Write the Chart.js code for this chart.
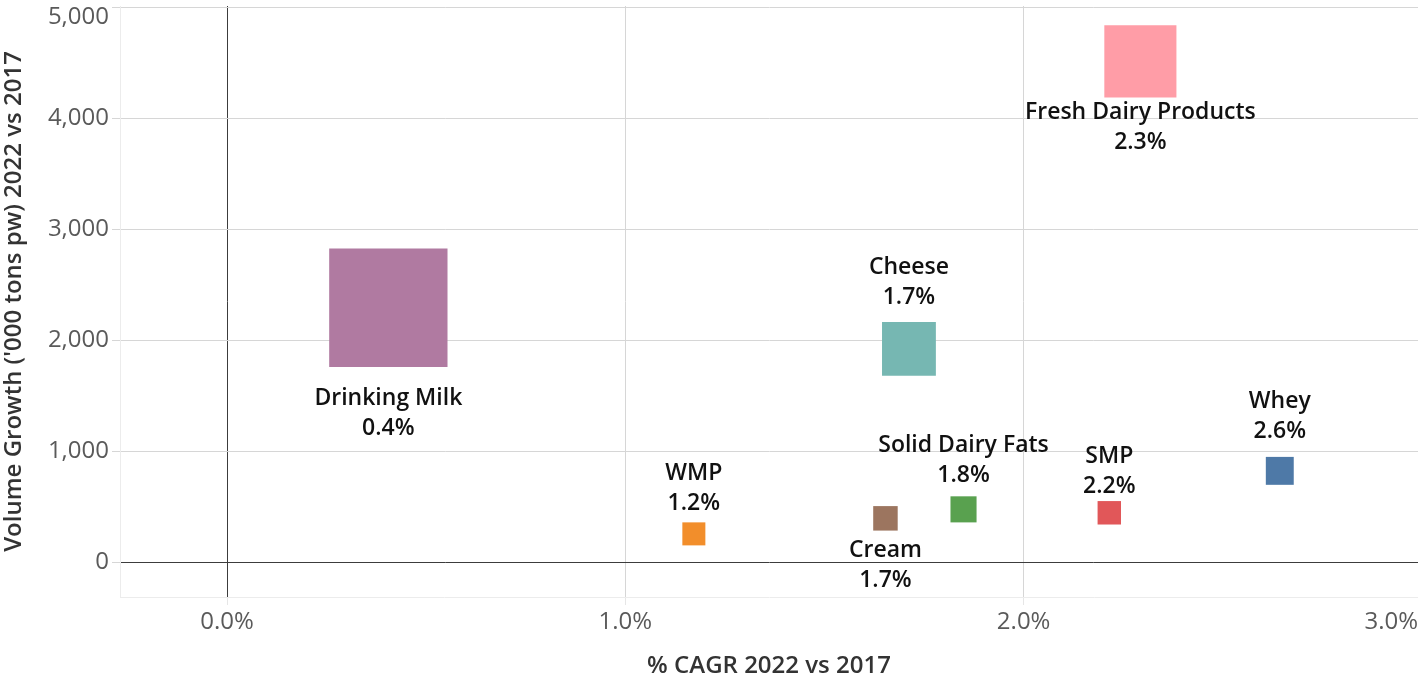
<!DOCTYPE html>
<html>
<head>
<meta charset="utf-8">
<script src="https://cdn.jsdelivr.net/npm/chart.js@4.4.1/dist/chart.umd.min.js"></script>
<style>
  html, body { margin: 0; padding: 0; background: #fff; }
  #wrap { width: 1418px; height: 678px; position: relative; }
</style>
</head>
<body>
<div id="wrap"><canvas id="dairyChart"></canvas></div>
<script>
const categories = ['Drinking Milk', 'Fresh Dairy Products', 'Cheese', 'WMP', 'Cream', 'Solid Dairy Fats', 'SMP', 'Whey'];
const cagrPct = [0.405, 2.293, 1.712, 1.172, 1.653, 1.849, 2.215, 2.643];
const volumeGrowth = [2292, 4513, 1922, 254, 394, 475, 444, 822];
const sizeMeasure = [140, 52, 29, 5.3, 6.0, 6.8, 5.5, 7.8];
const xTickValues = [0, 1, 2, 3];
const yTickValues = [0, 1000, 2000, 3000, 4000, 5000];

const markColors = ['#B07AA1', '#FF9DA7', '#76B7B2', '#F28E2B', '#9C755F', '#59A14F', '#E15759', '#4E79A7'];
// where each mark label sits, and its distance from the mark edge
const labelSide = ['below', 'below', 'above', 'above', 'below', 'above', 'above', 'above'];
const labelGap = [32, 15, 24, 19, 20, 21, 15, 25];

const tickFont = { family: 'Open Sans', size: 24 };
const titleFont = { family: 'Open Sans', size: 24, weight: '600' };
const labelFont = '600 23px "Open Sans"';

// square side in px grows with sqrt of the size measure (area encoding)
const radiusFor = v => (10 * Math.sqrt(v)) / (2 * Math.SQRT1_2);

const markLabels = {
  id: 'markLabels',
  afterDatasetsDraw(chart) {
    const ctx = chart.ctx;
    const meta = chart.getDatasetMeta(0);
    ctx.save();
    ctx.font = labelFont;
    ctx.fillStyle = '#111';
    ctx.textAlign = 'center';
    ctx.textBaseline = 'middle';
    meta.data.forEach((pt, i) => {
      const half = pt.options.radius * Math.SQRT1_2;
      const pct = cagrPct[i].toFixed(1) + '%';
      if (labelSide[i] === 'below') {
        const y0 = pt.y + half + labelGap[i];
        ctx.fillText(categories[i], pt.x, y0);
        ctx.fillText(pct, pt.x, y0 + 30);
      } else {
        const y0 = pt.y - half - labelGap[i];
        ctx.fillText(pct, pt.x, y0);
        ctx.fillText(categories[i], pt.x, y0 - 30);
      }
    });
    ctx.restore();
  },
  afterDraw(chart) {
    // tick label past the right edge of the pane, kept inside like the original
    const xs = chart.scales.x;
    const ctx = chart.ctx;
    ctx.save();
    ctx.font = '24px "Open Sans"';
    ctx.fillStyle = '#5a5a5a';
    ctx.textAlign = 'right';
    ctx.textBaseline = 'middle';
    xTickValues.filter(v => v > xs.max).forEach(v => {
      const px = Math.min(xs.getPixelForValue(v), chart.width);
      ctx.fillText(v.toFixed(1) + '%', px, xs.top + 8 + 3 + 14.4);
    });
    ctx.restore();
  }
};

const gridColor = c => (c.tick && c.tick.value === 0 ? '#3c3c3c' : '#d6d6d6');

new Chart(document.getElementById('dairyChart'), {
  type: 'scatter',
  data: {
    datasets: [{
      data: categories.map((c, i) => ({ x: cagrPct[i], y: volumeGrowth[i] })),
      backgroundColor: markColors,
      borderWidth: 0,
      pointStyle: 'rect',
      pointRadius: sizeMeasure.map(radiusFor),
      pointHoverRadius: sizeMeasure.map(radiusFor)
    }]
  },
  options: {
    responsive: true,
    maintainAspectRatio: false,
    animation: false,
    events: [],
    layout: { autoPadding: false, padding: { top: 6, right: 0, left: 0, bottom: 0 } },
    plugins: { legend: { display: false }, tooltip: { enabled: false } },
    scales: {
      x: {
        type: 'linear',
        min: -0.2687,
        max: 2.99,
        afterBuildTicks: s => { s.ticks = xTickValues.filter(v => v <= s.max).map(v => ({ value: v })); },
        afterFit: s => { s.height = 81; s.paddingLeft = 0; s.paddingRight = 0; },
        grid: { color: gridColor, tickColor: '#e6e6e6', tickLength: 8 },
        border: { display: true, color: '#ececec' },
        ticks: { font: tickFont, color: '#5a5a5a', padding: 3, maxRotation: 0, callback: v => v.toFixed(1) + '%' },
        title: { display: true, text: '% CAGR 2022 vs 2017', font: titleFont, color: '#333', padding: { top: 0, bottom: -3 } }
      },
      y: {
        type: 'linear',
        min: -315,
        max: 5012,
        afterBuildTicks: s => { s.ticks = yTickValues.map(v => ({ value: v })); },
        afterFit: s => { s.width = 120; s.paddingTop = 0; s.paddingBottom = 0; },
        grid: { color: gridColor, tickColor: '#d6d6d6', tickLength: 8 },
        border: { display: true, color: '#ececec' },
        ticks: {
          font: { family: 'Open Sans', size: 24, lineHeight: 0.85 },
          color: '#5a5a5a',
          padding: 3,
          callback: v => {
            const s = v.toLocaleString('en-US');
            return v === yTickValues[yTickValues.length - 1] ? ['', s] : s;
          }
        },
        title: { display: true, text: "Volume Growth ('000 tons pw) 2022 vs 2017", font: titleFont, color: '#333', padding: { top: 0, bottom: 0 } }
      }
    }
  },
  plugins: [markLabels]
});
</script>
</body>
</html>
